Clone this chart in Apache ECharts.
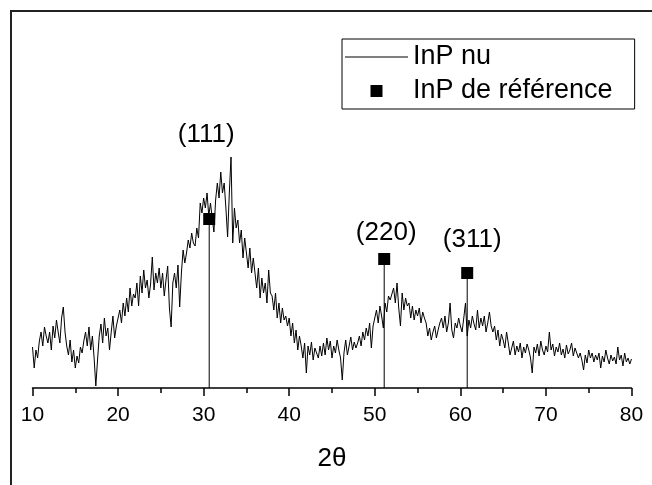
<!DOCTYPE html>
<html><head><meta charset="utf-8">
<script src="https://cdn.jsdelivr.net/npm/echarts@6/dist/echarts.min.js"></script>
<style>html,body{margin:0;padding:0;background:#fff}#c{width:652px;height:485px}</style>
</head><body><div id="c"></div>
<script>
// Scan: 2θ from 10 to 80 in 0.2° steps
const scanStart = 10;
const scanStep = 0.2;
const intensity = [
  410, 200, 380, 300, 470, 560, 420, 610, 520, 450,
  560, 380, 620, 500, 680, 560, 450, 700, 810, 560,
  420, 330, 480, 260, 380, 200, 320, 250, 410, 350,
  470, 560, 420, 610, 380, 520, 300, 20, 280, 520,
  640, 450, 700, 520, 600, 380, 560, 720, 500, 620,
  600, 780, 650, 850, 720, 900, 760, 1000, 820, 940,
  900, 1050, 820, 1120, 950, 1180, 1000, 1080, 900, 1040,
  1310, 980, 1150, 1050, 1200, 1000, 1150, 920, 1080, 1220,
  800, 610, 1050, 1150, 1000, 1230, 810, 1150, 1380, 1250,
  1350, 1480, 1400, 1550, 1450, 1420, 1600, 1500, 1850, 1750,
  1900, 1800, 1950, 1720, 1850, 1700, 1560, 1880, 2050, 1900,
  2160, 1950, 2050, 1800, 1510, 1950, 2310, 1450, 1800, 1600,
  1680, 1450, 1580, 1300, 1500, 1350, 1200, 1400, 1150, 1300,
  1150, 1000, 1200, 900, 1100, 950, 1050, 850, 1180, 950,
  920, 780, 950, 700, 850, 650, 800, 680, 720, 620,
  700, 520, 650, 450, 580, 380, 520, 420, 300, 450,
  150, 420, 330, 460, 280, 400, 350, 300, 420, 320,
  450, 330, 500, 380, 470, 300, 420, 350, 480, 380,
  300, 80, 350, 480, 330, 420, 510, 380, 460, 400,
  450, 520, 420, 560, 480, 600, 520, 650, 400, 620,
  700, 780, 650, 820, 720, 600, 850, 760, 920, 880,
  900, 1000, 850, 1050, 800, 620, 950, 780, 900, 820,
  850, 700, 820, 680, 780, 720, 800, 650, 760, 700,
  650, 520, 600, 480, 560, 620, 500, 580, 650, 700,
  600, 720, 560, 650, 850, 580, 500, 650, 600, 700,
  620, 560, 700, 850, 520, 680, 600, 720, 640, 580,
  780, 600, 700, 620, 720, 560, 650, 760, 620, 560,
  620, 480, 580, 420, 540, 480, 400, 560, 450, 330,
  400, 470, 330, 420, 360, 450, 300, 410, 350, 440,
  380, 300, 150, 410, 350, 440, 320, 470, 380, 330,
  420, 360, 560, 380, 440, 320, 410, 360, 450, 330,
  390, 300, 430, 340, 380, 450, 320, 400, 350, 300,
  350, 280, 180, 330, 250, 380, 300, 350, 260, 330,
  280, 350, 200, 320, 260, 380, 300, 240, 330, 270,
  310, 240, 410, 280, 330, 220, 350, 260, 300, 240,
  290
];

// Reference InP peaks
const refAngles = [30.65, 51.1, 60.8];
const refIntensity = [1690, 1290, 1150];
const refLabels = ['(111)', '(220)', '(311)'];

// Axis
const xMin = 10, xMax = 80, xInterval = 10;

const FONT = "'Liberation Sans', Arial, sans-serif";
const labelOffsets = [[-3, -84], [2, -26], [5, -33]];

const lineData = intensity.map((v, i) => [+(scanStart + i * scanStep).toFixed(2), v]);
const stickData = refAngles.map((x, i) => [x, refIntensity[i]]);
const refData = refAngles.map((x, i) => ({
  value: [x, refIntensity[i]],
  label: { offset: labelOffsets[i] },
  hkl: refLabels[i]
}));

const chart = echarts.init(document.getElementById('c'), null, { renderer: 'canvas' });
chart.setOption({
  animation: false,
  backgroundColor: '#fff',
  grid: { left: 32.5, right: 20.5, top: 88, bottom: 97 },
  xAxis: {
    type: 'value', min: xMin, max: xMax, interval: xInterval,
    name: '2θ', nameLocation: 'middle', nameGap: 58,
    nameTextStyle: { fontSize: 26, color: '#000', fontFamily: FONT },
    axisLine: { show: true, onZero: false, lineStyle: { color: '#000', width: 1.5 } },
    axisTick: { show: true, inside: false, length: 8, lineStyle: { color: '#000', width: 1.5 } },
    minorTick: { show: true, splitNumber: 2, length: 5, lineStyle: { color: '#000', width: 1.5 } },
    splitLine: { show: false },
    axisLabel: { fontSize: 21, color: '#000', fontFamily: FONT, margin: 17 }
  },
  yAxis: { type: 'value', min: 0, max: 3000, show: false },
  legend: {
    orient: 'vertical', left: 342, top: 39,
    padding: [4, 22, 4, 3],
    itemWidth: 63, itemHeight: 12, itemGap: 6,
    borderColor: '#000', borderWidth: 1, borderRadius: 0,
    textStyle: { fontSize: 27, color: '#000', fontFamily: FONT, lineHeight: 28 },
    data: [
      { name: 'InP nu', icon: 'path://M0,0H63V1H0Z' },
      { name: 'InP de référence', icon: 'path://M0,0H10V10H0Z' }
    ]
  },
  graphic: [{
    type: 'rect', silent: true,
    shape: { x: 11, y: 11, width: 800, height: 700 },
    style: { fill: 'none', stroke: '#222', lineWidth: 2 }
  }],
  series: [
    {
      name: 'InP nu', type: 'line', data: lineData,
      symbol: 'none', showSymbol: false,
      lineStyle: { color: '#000', width: 1 }, itemStyle: { color: '#000' },
      z: 2
    },
    {
      name: 'sticks', type: 'bar', data: stickData, barWidth: 1,
      itemStyle: { color: '#000' }, silent: true, z: 3
    },
    {
      name: 'InP de référence', type: 'scatter', data: refData,
      symbol: 'rect', symbolSize: 12,
      itemStyle: { color: '#000', opacity: 1 },
      label: {
        show: true, position: 'inside', color: '#000',
        fontSize: 26, fontFamily: FONT,
        formatter: p => p.data.hkl
      },
      z: 4
    }
  ]
});
</script>
</body></html>
